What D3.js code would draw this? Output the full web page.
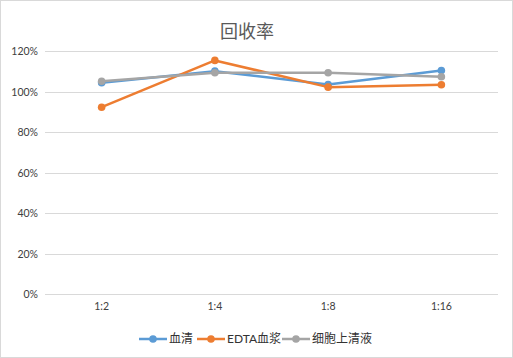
<!DOCTYPE html>
<html>
<head>
<meta charset="utf-8">
<script src="https://cdn.jsdelivr.net/npm/d3@7/dist/d3.min.js"></script>
<style>
  body { margin: 0; background: #fff; }
  svg { display: block; }
</style>
</head>
<body>
<svg id="chart" width="513" height="358"></svg>
<script>
// data
const categories = ["1:2", "1:4", "1:8", "1:16"];
const serumValues = [1.045, 1.102, 1.036, 1.105];
const edtaValues = [0.924, 1.155, 1.023, 1.035];
const cellValues = [1.052, 1.094, 1.094, 1.074];
const seriesNames = ["血清", "EDTA血浆", "细胞上清液"];
const seriesColors = ["#5b9bd5", "#ed7d31", "#a5a5a5"];
const yTicks = [0, 0.2, 0.4, 0.6, 0.8, 1.0, 1.2];

const series = [serumValues, edtaValues, cellValues].map((v, i) => ({
  name: seriesNames[i], color: seriesColors[i], values: v
}));

const font = "Lato, 'Noto Sans CJK SC', sans-serif";
const svg = d3.select("#chart");
const width = +svg.attr("width");
const height = +svg.attr("height");

// chart border
svg.append("rect")
  .attr("x", 0.5).attr("y", 0.5)
  .attr("width", width - 1).attr("height", height - 1)
  .attr("fill", "#fff").attr("stroke", "#d9d9d9");

const x = d3.scaleBand().domain(categories).range([45, 498]);
const y = d3.scaleLinear().domain([0, 1.2]).range([294.3, 51.3]);

// gridlines
svg.append("g")
  .selectAll("line")
  .data(yTicks)
  .enter()
  .append("line")
  .attr("x1", 45).attr("x2", 498)
  .attr("y1", d => Math.round(y(d)) + 0.5)
  .attr("y2", d => Math.round(y(d)) + 0.5)
  .attr("stroke", "#d9d9d9").attr("stroke-width", 1);

// y axis labels
const yAxis = d3.axisLeft(y).tickValues(yTicks).tickSize(0).tickPadding(0)
  .tickFormat(d3.format(".0%"));
const gy = svg.append("g").attr("transform", "translate(38,0)").call(yAxis);
gy.select(".domain").remove();
gy.selectAll("text")
  .attr("fill", "#404040")
  .style("font-family", font)
  .style("font-size", "10.5px");

// x axis labels
const xAxis = d3.axisBottom(x).tickSize(0).tickPadding(0);
const gx = svg.append("g").attr("transform", "translate(0,303)").call(xAxis);
gx.select(".domain").remove();
gx.selectAll("text")
  .attr("fill", "#404040")
  .style("font-family", font)
  .style("font-size", "10.5px");

// title
svg.append("text")
  .attr("x", 247).attr("y", 38)
  .attr("text-anchor", "middle")
  .attr("fill", "#595959")
  .style("font-family", "'Noto Sans CJK SC', sans-serif")
  .style("font-size", "18px")
  .text("回收率");

const cx = d => x(d) + x.bandwidth() / 2;
const line = d3.line()
  .x((d, i) => cx(categories[i]))
  .y(d => y(d));

const gs = svg.append("g")
  .selectAll("g")
  .data(series)
  .enter()
  .append("g");

gs.append("path")
  .attr("d", d => line(d.values))
  .attr("fill", "none")
  .attr("stroke", d => d.color)
  .attr("stroke-width", 2.5)
  .attr("stroke-linejoin", "round");

gs.selectAll("circle")
  .data(d => d.values.map((v, i) => ({ v: v, i: i, color: d.color })))
  .enter()
  .append("circle")
  .attr("cx", d => cx(categories[d.i]))
  .attr("cy", d => y(d.v))
  .attr("r", 3.8)
  .attr("fill", d => d.color);

// legend
const legendX = [139, 197, 282];
const lg = svg.append("g")
  .selectAll("g")
  .data(series)
  .enter()
  .append("g")
  .attr("transform", (d, i) => "translate(" + legendX[i] + ",339)");

lg.append("line")
  .attr("x1", 0).attr("x2", 28)
  .attr("stroke", d => d.color).attr("stroke-width", 2.5);
lg.append("circle")
  .attr("cx", 14).attr("r", 3.8)
  .attr("fill", d => d.color);
lg.append("text")
  .attr("x", 30).attr("dy", "0.35em")
  .attr("fill", "#333")
  .style("font-family", font)
  .style("font-size", "12px")
  .text(d => d.name);
</script>
</body>
</html>
